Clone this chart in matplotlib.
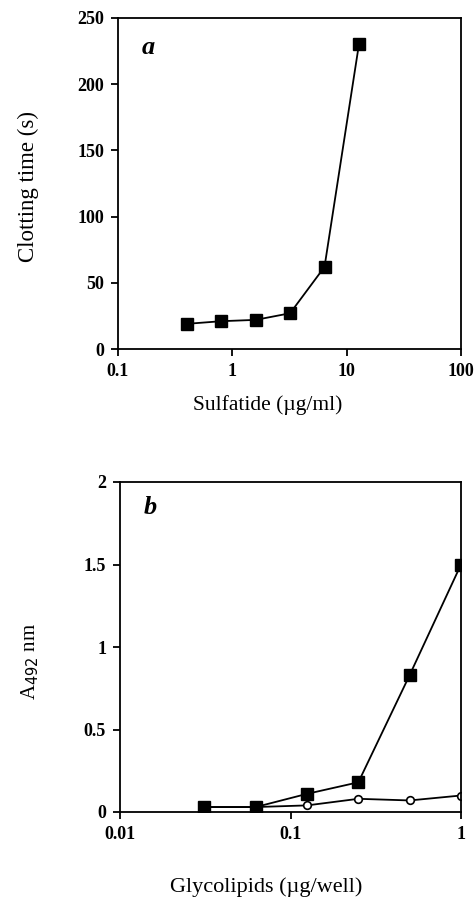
import matplotlib
matplotlib.use("Agg")
import matplotlib.pyplot as plt

# Panel a data
sulf_x = [0.4, 0.8, 1.6, 3.2, 6.4, 12.8]
clot_y = [19, 21, 22, 27, 62, 230]

# Panel b data
gly_x = [0.03125, 0.0625, 0.125, 0.25, 0.5, 1.0]
filled_y = [0.03, 0.03, 0.11, 0.18, 0.83, 1.50]
open_y = [0.03, 0.03, 0.04, 0.08, 0.07, 0.10]

a_yticks = [0, 50, 100, 150, 200, 250]
a_xticks = [0.1, 1, 10, 100]
a_xticklabels = ["0.1", "1", "10", "100"]
b_yticks = [0, 0.5, 1, 1.5, 2]
b_yticklabels = ["0", "0.5", "1", "1.5", "2"]
b_xticks = [0.01, 0.1, 1]
b_xticklabels = ["0.01", "0.1", "1"]

plt.rcParams['font.family'] = ['Liberation Serif', 'DejaVu Serif']

fig = plt.figure(figsize=(4.76, 8.99), dpi=100)
W, H = 476, 899

def add_axes(l, t, r, b):
    return fig.add_axes([l / W, 1 - b / H, (r - l) / W, (b - t) / H])

tickfont = dict(fontsize=13, fontweight='bold')

# Panel a
ax1 = add_axes(118, 18, 461, 349)
ax1.set_xscale('log')
ax1.plot(sulf_x, clot_y, color='black', lw=1.3, marker='s', ms=8, mfc='black', mec='black')
ax1.set_xlim(0.1, 100)
ax1.set_ylim(0, 250)
ax1.set_yticks(a_yticks)
ax1.set_yticklabels([str(v) for v in a_yticks], **tickfont)
ax1.set_xticks(a_xticks)
ax1.set_xticklabels(a_xticklabels, **tickfont)
ax1.minorticks_off()
ax1.set_ylabel("Clotting time (s)", fontsize=16.5)
ax1.yaxis.set_label_coords(-0.262, 0.49)
ax1.yaxis.label.set_va('center')
ax1.set_xlabel("Sulfatide (\u00b5g/ml)", fontsize=15.5)
ax1.xaxis.set_label_coords(0.437, -0.169)
ax1.xaxis.label.set_va('center')
ax1.text(0.07, 0.912, "a", transform=ax1.transAxes, fontsize=19, fontweight='bold',
         fontstyle='italic', ha='left', va='center')

# Panel b
ax2 = add_axes(120, 482, 461, 812)
ax2.set_xscale('log')
ax2.plot(gly_x, open_y, color='black', lw=1.3, marker='o', ms=5.5, mfc='white', mec='black', mew=1.2)
ax2.plot(gly_x, filled_y, color='black', lw=1.3, marker='s', ms=8, mfc='black', mec='black')
ax2.set_xlim(0.01, 1)
ax2.set_ylim(0, 2)
ax2.set_yticks(b_yticks)
ax2.set_yticklabels(b_yticklabels, **tickfont)
ax2.set_xticks(b_xticks)
ax2.set_xticklabels(b_xticklabels, **tickfont)
ax2.minorticks_off()
ax2.set_ylabel("A$_{492}$ nm", fontsize=15)
ax2.yaxis.set_label_coords(-0.264, 0.455)
ax2.yaxis.label.set_va('center')
ax2.set_xlabel("Glycolipids (\u00b5g/well)", fontsize=16)
ax2.xaxis.set_label_coords(0.428, -0.227)
ax2.xaxis.label.set_va('center')
ax2.text(0.07, 0.924, "b", transform=ax2.transAxes, fontsize=19, fontweight='bold',
         fontstyle='italic', ha='left', va='center')

for ax in (ax1, ax2):
    for s in ax.spines.values():
        s.set_linewidth(1.3)
    ax.tick_params(direction='out', length=5, width=1.3, pad=5)

fig.savefig("out.png", dpi=100)
